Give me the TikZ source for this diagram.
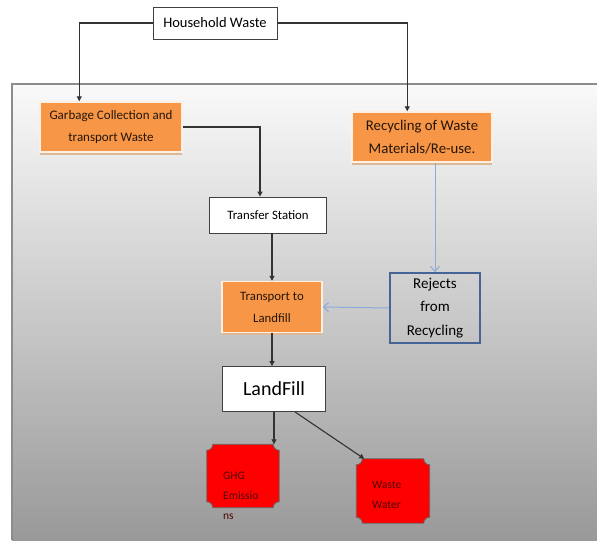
\documentclass[tikz,border=0pt]{standalone}
\usepackage{fontspec}
\setmainfont{Carlito}
\usepackage{tikz}
\usetikzlibrary{arrows.meta,shadows}

\definecolor{boxorange}{RGB}{247,150,70}
\definecolor{rejblue}{RGB}{70,100,150}
\definecolor{flowblue}{RGB}{140,170,215}
\definecolor{hazred}{RGB}{255,0,0}
\definecolor{hazink}{RGB}{80,5,5}

\pgfdeclarelayer{back}
\pgfdeclarelayer{mid}
\pgfsetlayers{back,mid,main}

\tikzset{
  plainbox/.style={draw=black!75, fill=white, line width=0.9pt, align=center, inner sep=0pt},
  orangebox/.style={draw=white!85!boxorange, fill=boxorange, line width=1.5pt, align=center, inner sep=0pt,
    text=black!85!boxorange,
    drop shadow={shadow xshift=0pt, shadow yshift=-2.5pt, fill=brown!55!white, opacity=1}},
  rejbox/.style={draw=rejblue, line width=1.8pt, align=center, inner sep=0pt},
  plaque/.style={inner sep=0pt},
  plaquetext/.style={text=hazink, align=left, font=\fontsize{11.5}{20}\selectfont, inner sep=0pt, anchor=north west},
  darkline/.style={draw=black!80, line width=1.1pt, -{Triangle[length=5pt,width=5pt]}},
  blueline/.style={draw=flowblue, line width=1pt, -{Straight Barb[length=5pt,width=9pt]}},
}

% concave-cornered red shape round a node
\newcommand\hazshape[1]{%
  \filldraw[fill=hazred, draw=black!60, line width=0.8pt]
    ([yshift=-6pt]#1.north west) arc[start angle=-90,end angle=0,radius=6pt]
    -- ([xshift=-6pt]#1.north east) arc[start angle=180,end angle=270,radius=6pt]
    -- ([yshift=6pt]#1.south east) arc[start angle=90,end angle=180,radius=6pt]
    -- ([xshift=6pt]#1.south west) arc[start angle=0,end angle=90,radius=6pt]
    -- cycle;}

\begin{document}
\begin{tikzpicture}[x=1pt,y=-1pt]
\useasboundingbox (0,0) rectangle (597,542);
\begin{pgfonlayer}{back}
\shade[top color=white!98!black, bottom color=black!40] (12,84) rectangle (597,540);
\draw[black!45, line width=1.5pt] (12,540) -- (12,84) -- (597,84);
\end{pgfonlayer}

\node (hw) at (215,23) [plainbox, minimum width=124, minimum height=32, font=\fontsize{14.5}{16}\selectfont] {Household Waste};
\node (gc) at (111,127) [orangebox, minimum width=142, minimum height=50, font=\fontsize{13}{22}\selectfont] {Garbage Collection and\\transport Waste};
\node (rc) at (422,137) [orangebox, minimum width=140, minimum height=50, font=\fontsize{14.8}{23}\selectfont] {Recycling of Waste\\Materials/Re-use.};
\node (ts) at (268,215) [plainbox, minimum width=117, minimum height=36, font=\fontsize{12.8}{14}\selectfont] {Transfer Station};
\node (tl) at (272,307) [orangebox, minimum width=100, minimum height=51, font=\fontsize{12.8}{22}\selectfont] {Transport to\\Landfill};
\node (rj) at (435,308) [rejbox, minimum width=90, minimum height=70, font=\fontsize{15}{23.5}\selectfont] {Rejects\\from\\Recycling};
\node (lf) at (274,389) [plainbox, minimum width=103, minimum height=45, font=\fontsize{20}{22}\selectfont] {LandFill};

\node (ghg) at (243,476) [plaque, minimum width=72, minimum height=63] {};
\node (ww)  at (393,491) [plaque, minimum width=73, minimum height=64] {};
\begin{pgfonlayer}{mid}
\hazshape{ghg}
\hazshape{ww}
\end{pgfonlayer}
\node (ghgtxt) at (223,472) [plaquetext] {GHG\\Emissio\\ns};
\node (wwtxt) at (372,481) [plaquetext] {Waste\\Water};

\draw[darkline] (hw.west) -| ([xshift=40]gc.north west);
\draw[darkline] (hw.east) -| ([xshift=56]rc.north west);
\draw[darkline] (gc.east) -| ([xshift=-8]ts.north);
\draw[darkline] (ts.south -| tl.north) -- (tl.north);
\draw[darkline] (tl.south) -- (tl.south |- lf.north);
\draw[darkline] (lf.south) -- (lf.south |- ghg.north);
\draw[darkline] ([xshift=21]lf.south) -- ([xshift=8]ww.north west);
\draw[blueline] (rc.south -| rj.north) -- (rj.north);
\draw[blueline] (rj.west) -- (tl.east);
\end{tikzpicture}
\end{document}
